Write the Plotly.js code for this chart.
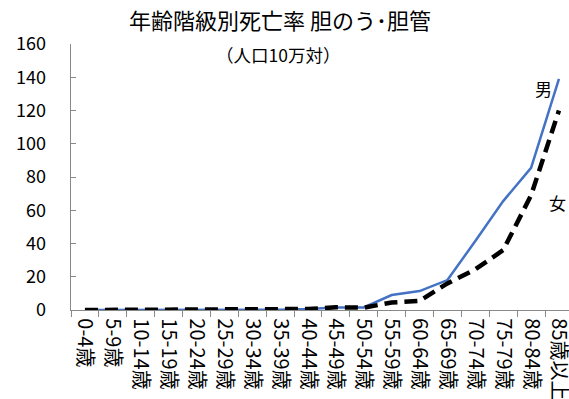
<!DOCTYPE html>
<html>
<head>
<meta charset="utf-8">
<script src="https://cdn.plot.ly/plotly-3.0.1.min.js"></script>
<style>html,body{margin:0;padding:0;background:#fff;}#chart{width:569px;height:399px;}</style>
</head>
<body>
<div id="chart"></div>
<script>
const categories = ["0-4歳","5-9歳","10-14歳","15-19歳","20-24歳","25-29歳","30-34歳","35-39歳","40-44歳","45-49歳","50-54歳","55-59歳","60-64歳","65-69歳","70-74歳","75-79歳","80-84歳","85歳以上"];
const male   = [0, 0, 0, 0, 0, 0, 0.1, 0.2, 0.6, 1.5, 1.5, 9, 11.4, 18, 41.5, 65.5, 85.5, 139];
const female = [0, 0, 0, 0, 0, 0, 0.1, 0.2, 0.6, 1.6, 1.4, 4.5, 5.5, 16, 24.5, 36, 69, 120];
const yTicks = [0, 20, 40, 60, 80, 100, 120, 140, 160];

const fontFam = "'Noto Sans CJK JP', 'Open Sans', sans-serif";

const traces = [
  {x: categories, y: male, type: 'scatter', mode: 'lines', name: '男',
   line: {color: '#4472C4', width: 2.5}},
  {x: categories, y: female, type: 'scatter', mode: 'lines', name: '女',
   line: {color: '#000000', width: 4.5, dash: '13px,7px'}}
];

const layout = {
  width: 569, height: 399,
  margin: {l: 71, r: 0, t: 44, b: 89},
  paper_bgcolor: '#fff', plot_bgcolor: '#fff',
  showlegend: false,
  font: {family: fontFam, color: '#000'},
  title: {text: '年齢階級別死亡率 胆のう･胆管', x: 0.492, xanchor: 'center', y: 1 - 21 / 399, yanchor: 'middle',
          font: {size: 22, family: fontFam, color: '#000'}},
  xaxis: {
    type: 'category', range: [-0.5, 17.36],
    showline: true, linecolor: '#898989', linewidth: 1.3,
    ticks: 'outside', ticklen: 6, tickcolor: '#898989', tickson: 'boundaries',
    tickangle: 90, ticklabelstandoff: 3,
    tickfont: {size: 20, family: fontFam, color: '#000'},
    showgrid: false, zeroline: false, fixedrange: true
  },
  yaxis: {
    range: [0, 160], tickvals: yTicks, ticktext: yTicks.map(String),
    showline: true, linecolor: '#898989', linewidth: 1.3,
    ticks: 'inside', ticklen: 5, tickcolor: '#898989',
    ticklabelstandoff: 20,
    tickfont: {size: 18, family: fontFam, color: '#000'},
    showgrid: false, zeroline: false, fixedrange: true
  },
  annotations: [
    {text: '（人口10万対）', xref: 'paper', yref: 'paper', x: (278 - 71) / 498, y: (310 - 54) / 266,
     xanchor: 'center', yanchor: 'middle', showarrow: false, font: {size: 17.5, family: fontFam, color: '#000'}},
    {text: '男', xref: 'paper', yref: 'paper', x: (543 - 71) / 498, y: (310 - 88) / 266,
     xanchor: 'center', yanchor: 'middle', showarrow: false, font: {size: 17, family: fontFam, color: '#000'}},
    {text: '女', xref: 'paper', yref: 'paper', x: (557 - 71) / 498, y: (310 - 202) / 266,
     xanchor: 'center', yanchor: 'middle', showarrow: false, font: {size: 17, family: fontFam, color: '#000'}}
  ]
};

Plotly.newPlot('chart', traces, layout, {displayModeBar: false, staticPlot: true});
</script>
</body>
</html>
